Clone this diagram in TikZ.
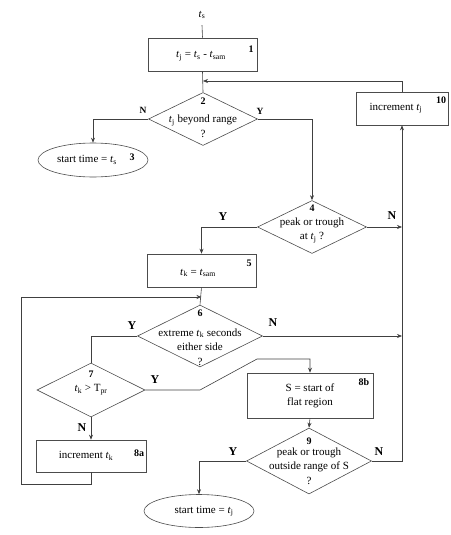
\documentclass[tikz,border=0pt]{standalone}
\usepackage{fontspec}
\setmainfont{Liberation Serif}
\usetikzlibrary{shapes.geometric,arrows.meta}
\newcommand\tsub[1]{\textit{t}\textsubscript{#1}}
\begin{document}
\begin{tikzpicture}[x=1pt,y=-1pt,
  ln/.style={draw=black!75, line width=0.6pt},
  arr/.style={ln,-{Stealth[length=5pt,width=4pt]}},
  boxst/.style={draw=black!70, line width=0.6pt, rectangle, inner sep=0pt},
  dia/.style={draw=black!70, line width=0.6pt, diamond, inner sep=0pt},
  ell/.style={draw=black!70, line width=0.6pt, ellipse, inner sep=0pt},
  txt/.style={font=\fontsize{11}{14.5}\selectfont, align=center, inner sep=0pt},
  num/.style={font=\fontsize{10}{12}\selectfont\bfseries, inner sep=0pt},
  yn/.style={font=\fontsize{12}{14}\selectfont\bfseries, inner sep=0pt},
  yns/.style={font=\fontsize{9.5}{12}\selectfont\bfseries, inner sep=0pt}]
\useasboundingbox (0,0) rectangle (450,535);

% nodes
\node[txt] (ts) at (202,15) {\tsub{s}};
\node[boxst, minimum width=109pt, minimum height=33pt] (b1) at (202.5,54.5) {};
\node[txt] (b1t) at (201,56) {\tsub{j} = \tsub{s} - \tsub{sam}};
\node[num] (b1n) at (251,49) {1};

\node[dia, minimum width=109pt, minimum height=53pt] (d2) at (203,119) {};
\node[num] (d2n) at (203,101) {2};
\node[txt] (d2t) at (203,126.5) {\tsub{j} beyond range\\?};
\node[yns] (d2N) at (143,110) {N};
\node[yns] (d2Y) at (260,111) {Y};

\node[ell, minimum width=110pt, minimum height=34pt] (e3) at (93,160) {};
\node[txt] (e3t) at (87,160) {start time = \tsub{s}};
\node[num] (e3n) at (132,157) {3};

\node[boxst, minimum width=92pt, minimum height=33pt] (b10) at (402,108.5) {};
\node[txt] (b10t) at (396,108) {increment \tsub{j}};
\node[num] (b10n) at (441,100) {10};

\node[dia, minimum width=109pt, minimum height=53pt] (d4) at (312,227) {};
\node[num] (d4n) at (312,208) {4};
\node[txt] (d4t) at (312,230.5) {peak or trough\\at \tsub{j} ?};
\node[yn] (d4Y) at (223,217) {Y};
\node[yn] (d4N) at (392,216) {N};

\node[boxst, minimum width=109pt, minimum height=33pt] (b5) at (201.5,270.5) {};
\node[txt] (b5t) at (198,273) {\tsub{k} = \tsub{sam}};
\node[num] (b5n) at (249,263) {5};

\node[dia, minimum width=125pt, minimum height=62pt] (d6) at (200,336) {};
\node[num] (d6n) at (200,313) {6};
\node[txt] (d6t) at (200,347) {extreme \tsub{k} seconds\\either side\\?};
\node[yn] (d6Y) at (132,326) {Y};
\node[yn] (d6N) at (273,323) {N};

\node[dia, minimum width=108pt, minimum height=54pt] (d7) at (91,390) {};
\node[num] (d7n) at (91,374) {7};
\node[txt] (d7t) at (91,390) {\tsub{k} > T\textsubscript{pr}};
\node[yn] (d7Y) at (155,380) {Y};
\node[yn] (d7N) at (82,428) {N};

\node[boxst, minimum width=110pt, minimum height=32pt] (b8a) at (91,456) {};
\node[txt] (b8at) at (86,456) {increment \tsub{k}};
\node[num] (b8an) at (139,453) {8a};

\node[boxst, minimum width=126pt, minimum height=45pt] (b8b) at (310,395.5) {};
\node[txt] (b8bt) at (310,396) {S = start of\\flat region};
\node[num] (b8bn) at (364,382) {8b};

\node[dia, minimum width=125pt, minimum height=66pt] (d9) at (309,461) {};
\node[num] (d9n) at (309,441) {9};
\node[txt] (d9t) at (309,466) {peak or trough\\outside range of S\\?};
\node[yn] (d9Y) at (233,452) {Y};
\node[yn] (d9N) at (379,452) {N};

\node[ell, minimum width=110pt, minimum height=33pt] (e11) at (199,511) {};
\node[txt] (e11t) at (204,511) {start time = \tsub{j}};

% helper coordinates
\coordinate (j1) at (203,81);
\coordinate (j4) at (402,227);
\coordinate (j6) at (402,336);
\coordinate (j5) at (201.5,297);
\coordinate (c7a) at (200,390);
\coordinate (c7b) at (257,359);
\coordinate (c8a) at (91,484);
\coordinate (c8b) at (21,297);

% connectors
\draw[ln] (ts.south) ++(0,6) -- (b1.north);
\draw[ln] (b1.south) -- (d2.north);
\draw[arr] (d2.west) -| (e3.north);
\draw[arr] (d2.east) -| (d4.north);
\draw[arr] (b10.north) |- (j1);
\draw[arr] (d4.west) -| (b5.north);
\draw[arr] (d4.east) -- (j4);
\draw[ln] (b5.south) -- (d6.north);
\draw[ln] (d6.west) -| (d7.north);
\draw[arr] (d6.east) -- (j6);
\draw[arr] (d7.east) -- (c7a) -- (c7b) -| (b8b.north);
\draw[arr] (d7.south) -- (b8a.north);
\draw[arr] (b8a.south) -- (c8a) -| (c8b) -- (j5);
\draw[arr] (b8b.south) -- (d9.north);
\draw[arr] (d9.west) -| (e11.north);
\draw[arr] (d9.east) -| (b10.south);
\end{tikzpicture}
\end{document}
